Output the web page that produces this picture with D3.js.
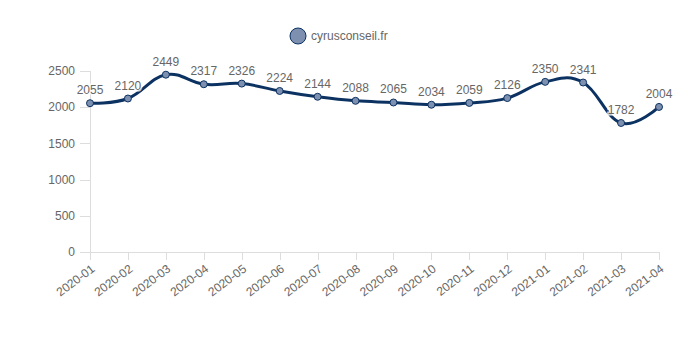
<!DOCTYPE html>
<html><head><meta charset="utf-8">
<script src="https://cdn.jsdelivr.net/npm/d3@7"></script>
<style>body{margin:0;background:#fff;} svg{display:block;}</style>
</head><body>
<svg id="c" width="680" height="340"></svg>
<script>
const categories = ["2020-01","2020-02","2020-03","2020-04","2020-05","2020-06","2020-07","2020-08","2020-09","2020-10","2020-11","2020-12","2021-01","2021-02","2021-03","2021-04"];
const values = [2055,2120,2449,2317,2326,2224,2144,2088,2065,2034,2059,2126,2350,2341,1782,2004];
const yTicks = [0,500,1000,1500,2000,2500];
const seriesName = "cyrusconseil.fr";

const svg = d3.select("#c");
const font = "Arial, 'Liberation Sans', Helvetica, sans-serif";
const txt = "#666";
const axisCol = "#ddd";
const lineCol = "#0c3262";
const ptFill = "#7d90b0";

const x = d3.scalePoint().domain(categories).range([90, 659]);
const y = d3.scaleLinear().domain([0, 2500]).range([252, 71]);

// y axis
const gy = svg.append("g");
gy.append("line").attr("x1",90.5).attr("x2",90.5).attr("y1",y(2500)).attr("y2",y(0)).attr("stroke",axisCol);
yTicks.forEach(t=>{
  gy.append("line").attr("x1",80).attr("x2",90).attr("y1",Math.round(y(t))+0.5).attr("y2",Math.round(y(t))+0.5).attr("stroke",axisCol);
  gy.append("text").attr("x",75).attr("y",y(t)).attr("dy","0.35em").attr("text-anchor","end")
    .attr("font-family",font).attr("font-size",12).attr("fill",txt).text(t);
});
// x axis
const gx = svg.append("g");
gx.append("line").attr("x1",90).attr("x2",659).attr("y1",y(0)+0.5).attr("y2",y(0)+0.5).attr("stroke",axisCol);
categories.forEach(c=>{
  const xc = Math.round(x(c))+0.5;
  gx.append("line").attr("x1",xc).attr("x2",xc).attr("y1",y(0)).attr("y2",y(0)+8).attr("stroke",axisCol);
  gx.append("text").attr("transform",`translate(${x(c)+3},${y(0)+15}) rotate(-37)`)
    .attr("text-anchor","end").attr("dy","0.35em")
    .attr("font-family",font).attr("font-size",12).attr("fill",txt).text(c);
});

// line
const line = d3.line().x((d,i)=>x(categories[i])).y(d=>y(d)).curve(d3.curveCardinal.tension(-0.2));
svg.append("path").datum(values).attr("d",line).attr("fill","none").attr("stroke",lineCol).attr("stroke-width",3);

// points
svg.selectAll("circle.pt").data(values).enter().append("circle").attr("class","pt")
  .attr("cx",(d,i)=>x(categories[i])).attr("cy",d=>y(d)).attr("r",3.5)
  .attr("fill",ptFill).attr("stroke",lineCol).attr("stroke-width",1);

// labels
svg.selectAll("text.lbl").data(values).enter().append("text").attr("class","lbl")
  .attr("x",(d,i)=>x(categories[i])).attr("y",d=>y(d)-9)
  .attr("text-anchor","middle").attr("font-family",font).attr("font-size",12)
  .attr("fill",txt).attr("stroke","#fff").attr("stroke-width",3).attr("stroke-opacity",0.8)
  .attr("paint-order","stroke").text(d=>d);

// legend
svg.append("circle").attr("cx",298).attr("cy",36).attr("r",8).attr("fill",ptFill).attr("stroke",lineCol).attr("stroke-width",1);
svg.append("text").attr("x",311).attr("y",36).attr("dy","0.35em").attr("font-family",font)
  .attr("font-size",12).attr("fill",txt).text(seriesName);
</script>
</body></html>
